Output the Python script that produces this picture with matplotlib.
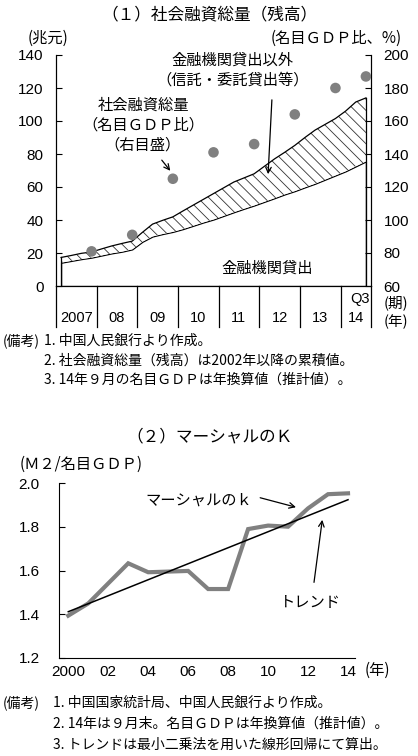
import numpy as np
import matplotlib
matplotlib.use('Agg')
import matplotlib.pyplot as plt
from matplotlib import font_manager
from matplotlib.transforms import blended_transform_factory

plt.rcParams['font.family'] = ['Noto Sans CJK JP', 'DejaVu Sans']
plt.rcParams['hatch.linewidth'] = 0.6

installed = {f.name for f in font_manager.fontManager.ttflist}
if 'Liberation Sans Narrow' in installed:
    NUM_FONT = ['Liberation Sans Narrow', 'DejaVu Sans']
    NUM_SIZE = 11.5
else:
    NUM_FONT = ['Liberation Sans', 'DejaVu Sans']
    NUM_SIZE = 11
GRAY = '#808080'
W, H = 418, 756

# (1) social financing stock, quarterly 2007Q1 - 2014Q3 (trillion yuan)
bank_loans = [14.1, 15.2, 16.3, 17.2, 18.5, 19.8, 20.8, 22.2,
              26.8, 30.0, 31.5, 32.8, 34.5, 36.5, 38.5, 40.3,
              42.5, 44.7, 46.8, 48.8, 51.0, 53.2, 55.5, 57.5,
              59.8, 62.0, 64.5, 67.0, 69.5, 72.5, 75.5]
total_financing = [17.3, 18.5, 19.8, 20.6, 22.5, 24.3, 25.8, 27.2,
                   32.5, 37.5, 39.8, 41.9, 45.5, 49.0, 52.5, 56.0,
                   59.5, 63.0, 65.5, 68.0, 72.5, 77.0, 81.0, 85.2,
                   90.0, 94.5, 98.0, 101.5, 106.0, 111.5, 114.0]
year_labels = ['2007', '08', '09', '10', '11', '12', '13', '14']
quarters_in_year = [4, 4, 4, 4, 4, 4, 4, 3]
# ratio to nominal GDP (%), year end, 2014 = Q3
ratio_gdp = [81, 91, 125, 141, 146, 164, 180, 187]

# (2) Marshall's k (M2 / nominal GDP)
k_years = list(range(2000, 2015))
marshall_k = [1.393, 1.449, 1.541, 1.633, 1.592, 1.595, 1.598, 1.515,
              1.515, 1.790, 1.806, 1.801, 1.885, 1.950, 1.954]
k_tick_years = [2000, 2002, 2004, 2006, 2008, 2010, 2012, 2014]
k_tick_labels = ['2000', '02', '04', '06', '08', '10', '12', '14']


def fx(px):
    return px / W


def fy(py):
    return 1 - py / H


fig = plt.figure(figsize=(W / 100, H / 100), dpi=100)

# ---------- (1) ----------
ax1 = fig.add_axes([fx(56), fy(286), (371 - 56) / W, (286 - 55) / H])
q = np.arange(len(bank_loans))
ax1.fill_between(q, 0, bank_loans, facecolor='white', edgecolor='black', lw=0.9)
ax1.fill_between(q, bank_loans, total_financing, facecolor='white',
                 edgecolor='#333333', hatch='\\\\\\', lw=0)
ax1.plot(q, total_financing, color='black', lw=0.9)
ax1.plot([q[0], q[0]], [0, total_financing[0]], color='black', lw=0.9)
ax1.plot([q[-1], q[-1]], [0, total_financing[-1]], color='black', lw=0.9)
ax1.set_xlim(-0.5, len(bank_loans) - 0.5)
ax1.set_ylim(0, 140)
ax1.set_yticks(range(0, 141, 20))
ax1.set_xticks([])
ax1.tick_params(axis='y', direction='in', length=4, pad=9, labelsize=NUM_SIZE)
for lab in ax1.get_yticklabels():
    lab.set_family(NUM_FONT)
ax1.spines['top'].set_visible(False)

ax2 = ax1.twinx()
ax2.set_ylim(60, 200)
ax2.set_yticks(range(60, 201, 20))
ax2.tick_params(axis='y', direction='in', length=4, pad=9, labelsize=NUM_SIZE)
for lab in ax2.get_yticklabels():
    lab.set_family(NUM_FONT)
ax2.spines['top'].set_visible(False)
year_end = np.cumsum(quarters_in_year) - 1
ax2.scatter(year_end, ratio_gdp, s=58, color=GRAY, edgecolors='none', zorder=3)

# year boxes under the axis
trans = blended_transform_factory(ax1.transData, ax1.transAxes)
bounds = -0.5 + np.concatenate([[0], np.cumsum(quarters_in_year)])
for b in bounds:
    ax1.plot([b, b], [0, -0.177], transform=trans, clip_on=False,
             color='black', lw=0.9)
for lab, a, b in zip(year_labels, bounds[:-1], bounds[1:]):
    ax1.text((a + b) / 2, -0.139, lab, transform=trans, ha='center',
             va='center', fontsize=NUM_SIZE - 0.5, family=NUM_FONT)
ax1.text(bounds[-1] - 0.15, -0.055, 'Q3', transform=trans, ha='right',
         va='center', fontsize=NUM_SIZE - 0.5, family=NUM_FONT)

fig.text(fx(209), fy(15), '（１）社会融資総量（残高）', ha='center', va='center', fontsize=12)
fig.text(fx(48), fy(38), '(兆元)', ha='center', va='center', fontsize=11)
fig.text(fx(402), fy(38), '(名目ＧＤＰ比、%)', ha='right', va='center', fontsize=11)
fig.text(fx(396), fy(303), '(期)', ha='center', va='center', fontsize=10.5)
fig.text(fx(396), fy(322), '(年)', ha='center', va='center', fontsize=10.5)

ax1.text(16.9, 137.0, '金融機関貸出以外', ha='center', va='center', fontsize=11)
ax1.text(16.9, 124.8, '（信託・委託貸出等）', ha='center', va='center', fontsize=11)
ax1.annotate('', xy=(20.36, 66.1), xytext=(20.76, 114.5),
             arrowprops=dict(arrowstyle='->', color='black', lw=0.9))
ax1.text(8.06, 109.7, '社会融資総量', ha='center', va='center', fontsize=11)
ax1.text(8.06, 97.6, '（名目ＧＤＰ比）', ha='center', va='center', fontsize=11)
ax1.text(8.06, 85.5, '（右目盛）', ha='center', va='center', fontsize=11)
ax1.annotate('', xy=(10.92, 68.5), xytext=(9.74, 77.6),
             arrowprops=dict(arrowstyle='->', color='black', lw=0.9))
ax1.text(20.27, 10.9, '金融機関貸出', ha='center', va='center', fontsize=11)

notes1 = ['1. 中国人民銀行より作成。',
          '2. 社会融資総量（残高）は2002年以降の累積値。',
          '3. 14年９月の名目ＧＤＰは年換算値（推計値）。']
fig.text(fx(3), fy(341), '(備考)', ha='left', va='center', fontsize=10)
for i, t in enumerate(notes1):
    fig.text(fx(44), fy(341 + 19.5 * i), t, ha='left', va='center', fontsize=10)

# ---------- (2) ----------
ax3 = fig.add_axes([fx(59.3), fy(657.7), (355 - 59.3) / W, (657.7 - 483.3) / H])
ax3.plot(k_years, marshall_k, color=GRAY, lw=3, solid_joinstyle='miter')
fit = np.polyfit(k_years, marshall_k, 1)
ax3.plot(k_years, np.polyval(fit, k_years), color='black', lw=1.1)
ax3.set_xlim(1999.55, 2014.35)
ax3.set_ylim(1.2, 2.0)
ax3.set_yticks([1.2, 1.4, 1.6, 1.8, 2.0])
ax3.set_yticklabels(['1.2', '1.4', '1.6', '1.8', '2.0'])
ax3.set_xticks(k_tick_years)
ax3.set_xticklabels(k_tick_labels)
ax3.tick_params(axis='y', direction='in', length=4, pad=14, labelsize=NUM_SIZE)
ax3.tick_params(axis='x', length=0, pad=5, labelsize=NUM_SIZE)
for lab in ax3.get_yticklabels() + ax3.get_xticklabels():
    lab.set_family(NUM_FONT)
ax3.spines['top'].set_visible(False)
ax3.spines['right'].set_visible(False)

fig.text(fx(209), fy(437), '（２）マーシャルのＫ', ha='center', va='center', fontsize=12)
fig.text(fx(20), fy(464), '(Ｍ２/名目ＧＤＰ)', ha='left', va='center', fontsize=11)
fig.text(fx(377), fy(670), '(年)', ha='center', va='center', fontsize=11)

ax3.text(2006.51, 1.923, 'マーシャルのｋ', ha='center', va='center', fontsize=11)
ax3.annotate('', xy=(2011.53, 1.887), xytext=(2009.47, 1.937),
             arrowprops=dict(arrowstyle='->', color='black', lw=0.9))
ax3.text(2012.12, 1.451, 'トレンド', ha='center', va='center', fontsize=11)
ax3.annotate('', xy=(2012.73, 1.845), xytext=(2012.28, 1.533),
             arrowprops=dict(arrowstyle='->', color='black', lw=0.9))

notes2 = ['1. 中国国家統計局、中国人民銀行より作成。',
          '2. 14年は９月末。名目ＧＤＰは年換算値（推計値）。',
          '3. トレンドは最小二乗法を用いた線形回帰にて算出。']
fig.text(fx(3), fy(703), '(備考)', ha='left', va='center', fontsize=10)
for i, t in enumerate(notes2):
    fig.text(fx(53), fy(703 + 21 * i), t, ha='left', va='center', fontsize=10)

fig.savefig('out.png', dpi=100)
